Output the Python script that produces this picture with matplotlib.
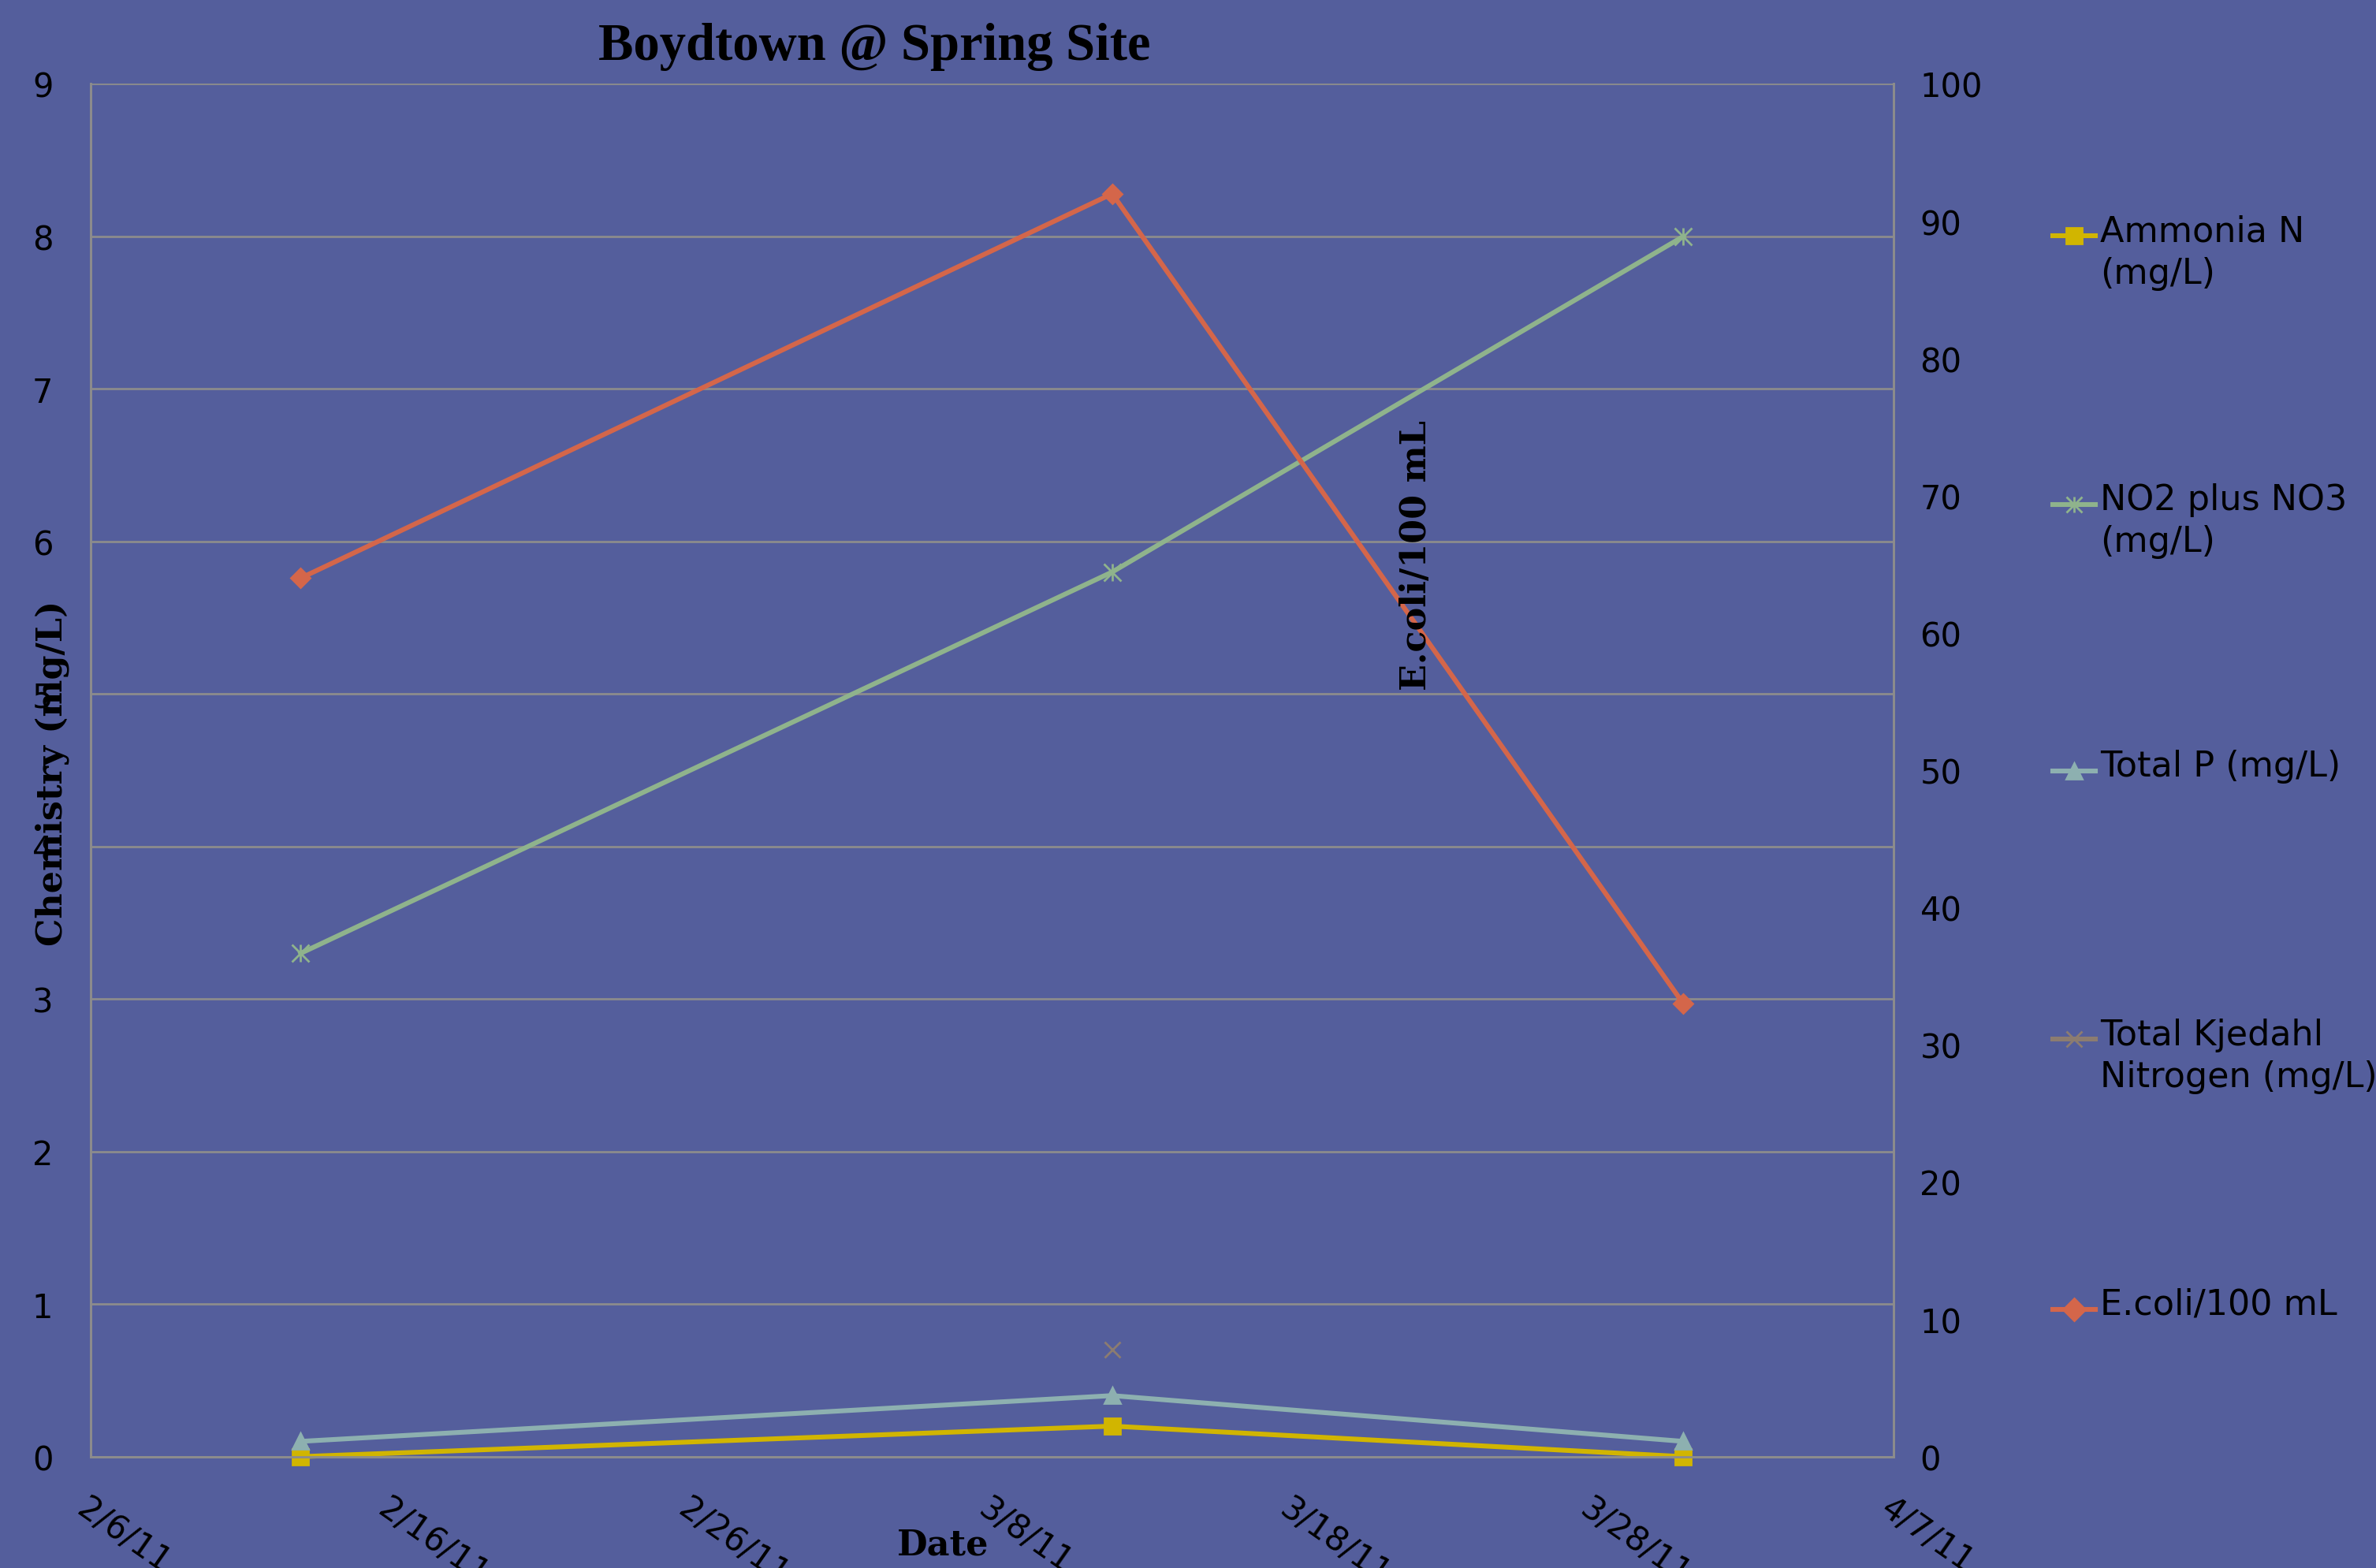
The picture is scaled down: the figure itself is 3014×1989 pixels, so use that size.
import datetime as dt
import numpy as np
import matplotlib
matplotlib.use("Agg")
import matplotlib.pyplot as plt
from matplotlib.lines import Line2D

# data
dates = [dt.date(2011, 2, 13), dt.date(2011, 3, 12), dt.date(2011, 3, 31)]
ammonia = [0.0, 0.2, 0.0]
no2_no3 = [3.3, 5.8, 8.0]
total_p = [0.1, 0.4, 0.1]
tkn = [np.nan, 0.7, np.nan]
ecoli = [64, 92, 33]

left_ticks = list(range(0, 10))
right_ticks = list(range(0, 101, 10))

bg = "#545E9C"
grid_c = "#8C8C8C"
c_amm = "#D1B500"
c_no = "#8FB38C"
c_p = "#8DB0B0"
c_tkn = "#8C7C70"
c_ec = "#D4664A"

fig = plt.figure(figsize=(15.07, 9.95), dpi=200, facecolor=bg)
ax = fig.add_axes([0.038, 0.071, 0.759, 0.875], facecolor=bg)
ax2 = ax.twinx()

lw = 2.2
ax.plot(dates, ammonia, color=c_amm, lw=lw, marker="s", ms=7, zorder=3, clip_on=False)
ax.plot(dates, no2_no3, color=c_no, lw=lw, zorder=3)
ax.plot(dates, no2_no3, ls="none", marker="x", ms=8, mew=1, color=c_no, zorder=3)
ax.plot(dates, no2_no3, ls="none", marker="|", ms=8, mew=1, color=c_no, zorder=3)
ax.plot(dates, total_p, color=c_p, lw=lw, marker="^", ms=7, zorder=3, clip_on=False)
ax.plot(dates, tkn, color=c_tkn, lw=lw, marker="x", ms=7, mew=1, zorder=3)
ax2.plot(dates, ecoli, color=c_ec, lw=lw, marker="D", ms=6, zorder=3)

ax.set_ylim(0, 9)
ax.set_yticks(left_ticks)
ax2.set_ylim(0, 100)
ax2.set_yticks(right_ticks)
ax.set_xlim(dt.date(2011, 2, 6), dt.date(2011, 4, 7))
ticks = [dt.date(2011, 2, 6) + dt.timedelta(days=10 * i) for i in range(7)]
ax.set_xticks(ticks)
ax.set_xticklabels([f"{d.month}/{d.day}/{d.strftime('%y')}" for d in ticks],
                   rotation=-35, ha="left", va="top", rotation_mode="anchor")

ax.grid(axis="y", color=grid_c, lw=1)
ax.grid(axis="x", visible=False)
for a in (ax, ax2):
    for s in a.spines.values():
        s.set_color(grid_c)
        s.set_linewidth(1)
    a.spines["top"].set_visible(False)
ax.tick_params(axis="y", length=0, pad=17, labelsize=15, labelcolor="black")
ax.tick_params(axis="x", length=0, pad=16, labelsize=15, labelcolor="black")
ax2.tick_params(axis="y", length=0, pad=12, labelsize=15, labelcolor="black")

fig.text(0.368, 0.970, "Boydtown @ Spring Site", ha="center", va="center",
         fontsize=24, fontweight="bold", family="Liberation Serif")
fig.text(0.022, 0.507, "Chemistry (mg/L)", rotation=90, ha="center", va="center",
         fontsize=16, fontweight="bold", family="DejaVu Serif")
fig.text(0.596, 0.646, "E.coli/100 mL", rotation=90, ha="center", va="center",
         fontsize=16, fontweight="bold", family="DejaVu Serif")
fig.text(0.397, 0.015, "Date", ha="center", va="center",
         fontsize=16, fontweight="bold", family="DejaVu Serif")

# legend drawn by hand to get the spacing of the original
leg_labels = ["Ammonia N\n(mg/L)", "NO2 plus NO3\n(mg/L)", "Total P (mg/L)",
              "Total Kjedahl\nNitrogen (mg/L)", "E.coli/100 mL"]
leg_colors = [c_amm, c_no, c_p, c_tkn, c_ec]
leg_markers = ["s", "x", "^", "x", "D"]
leg_y = [0.849, 0.678, 0.508, 0.337, 0.165]
for lab, col, mk, y in zip(leg_labels, leg_colors, leg_markers, leg_y):
    fig.add_artist(Line2D([0.864, 0.882], [y, y], color=col, lw=lw,
                          transform=fig.transFigure))
    fig.add_artist(Line2D([0.873], [y], color=col, marker=mk, ms=7, mew=1,
                          transform=fig.transFigure))
    if lab.startswith("NO2"):
        fig.add_artist(Line2D([0.873], [y], color=col, marker="|", ms=7, mew=1,
                              transform=fig.transFigure))
    fig.text(0.884, y + 0.014, lab, ha="left", va="top", fontsize=16,
             color="black", linespacing=1.3)

plt.savefig("out.png", dpi=200, facecolor=bg)
